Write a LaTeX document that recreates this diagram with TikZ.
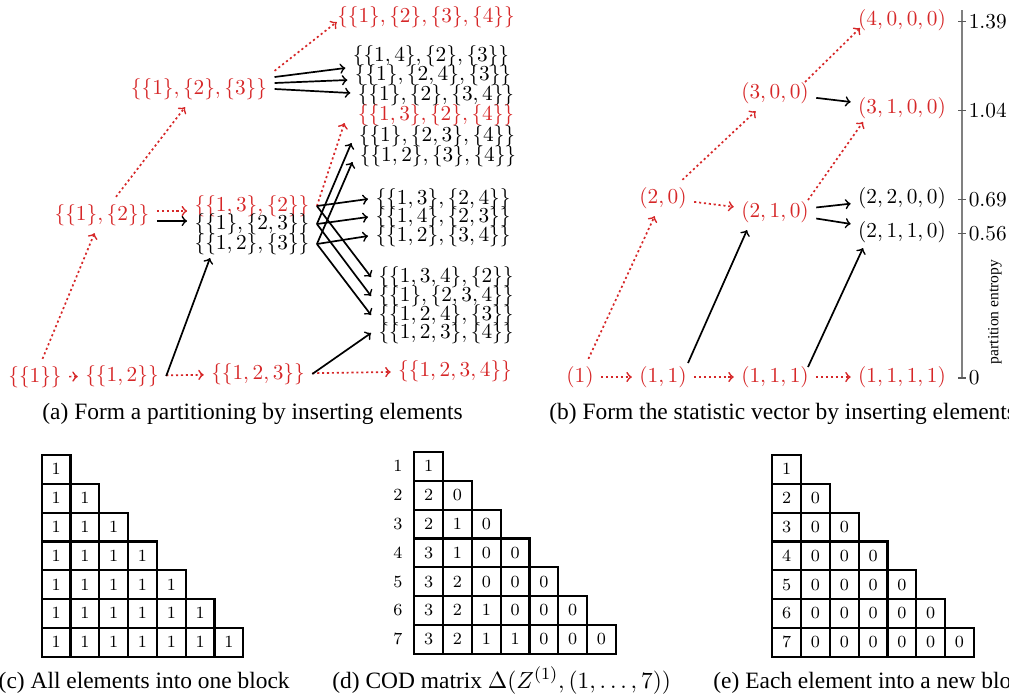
\documentclass[tikz,border=0pt]{standalone}
\usepackage{amsmath}
\usepackage[no-math]{fontspec}
\setmainfont{Liberation Serif}
\usetikzlibrary{calc}
\definecolor{setred}{RGB}{214,39,40}
\tikzset{
    part/.style    = {inner sep=3.33pt},
    newpart/.style = {part, text=setred},
    ins/.style     = {->, thick, draw=black},
    newins/.style  = {->, thick, dash pattern=on 1pt off 1.3pt, draw=setred},
    cell/.style    = {draw=black, line width=1pt, minimum size=13.5pt, inner sep=0pt, font=\fontsize{8.5}{10}\selectfont},
    rowlab/.style  = {inner sep=0pt, font=\fontsize{8.5}{10}\selectfont},
    subcap/.style  = {anchor=base west, inner sep=0pt, font=\fontsize{11}{13}\selectfont}
}

\begin{document}
\begin{tikzpicture}[x=0.4695pt, y=-0.4695pt]
    \clip (0,0) rectangle (1009,698);

    % (a) partitions
    \node[newpart] (a1)    at (35,377)  {$\{\{1\}\}$};
    \node[newpart] (a12)   at (122,376) {$\{\{1,2\}\}$};
    \node[newpart] (a123)  at (258,374) {$\{\{1,2,3\}\}$};
    \node[newpart] (a1234) at (455,371) {$\{\{1,2,3,4\}\}$};
    \node[newpart] (a1x2)  at (102,215) {$\{\{1\},\{2\}\}$};
    \node[newpart] (a13x2) at (252,206) {$\{\{1,3\},\{2\}\}$};
    \node[part]    (a1x23) at (252,224) {$\{\{1\},\{2,3\}\}$};
    \node[part]    (a12x3) at (252,244) {$\{\{1,2\},\{3\}\}$};
    \node[newpart] (a1x2x3)   at (199,89) {$\{\{1\},\{2\},\{3\}\}$};
    \node[newpart] (a1x2x3x4) at (426,17) {$\{\{1\},\{2\},\{3\},\{4\}\}$};

    \node[part]    (a14x2x3) at (431,56)  {$\{\{1,4\},\{2\},\{3\}\}$};
    \node[part]    (a1x24x3) at (433,75)  {$\{\{1\},\{2,4\},\{3\}\}$};
    \node[part]    (a1x2x34) at (436,95)  {$\{\{1\},\{2\},\{3,4\}\}$};
    \node[newpart] (a13x2x4) at (436,115) {$\{\{1,3\},\{2\},\{4\}\}$};
    \node[part]    (a1x23x4) at (437,136) {$\{\{1\},\{2,3\},\{4\}\}$};
    \node[part]    (a12x3x4) at (438,156) {$\{\{1,2\},\{3\},\{4\}\}$};
    \node[part]    (a13x24)  at (443,199) {$\{\{1,3\},\{2,4\}\}$};
    \node[part]    (a14x23)  at (443,217) {$\{\{1,4\},\{2,3\}\}$};
    \node[part]    (a12x34)  at (443,236) {$\{\{1,2\},\{3,4\}\}$};
    \node[part]    (a134x2)  at (446,277) {$\{\{1,3,4\},\{2\}\}$};
    \node[part]    (a1x234)  at (446,296) {$\{\{1\},\{2,3,4\}\}$};
    \node[part]    (a124x3)  at (446,315) {$\{\{1,2,4\},\{3\}\}$};
    \node[part]    (a123x4)  at (446,333) {$\{\{1,2,3\},\{4\}\}$};

    \draw[newins] (a1) -- (a12);
    \draw[newins] (a1) -- (a1x2);
    \draw[newins] (a12) -- (a123);
    \draw[ins] (a12.east) -- ($(a12x3)+(-42,14)$);
    \draw[newins] ($(a1x2.east)+(0,-4)$) -- ($(a13x2.west)+(0,5)$);
    \draw[ins] ($(a1x2.east)+(0,6)$) -- ($(a1x23.west)+(0,-3)$);
    \draw[newins] (a1x2) -- (a1x2x3);
    \draw[newins] (a1x2x3.north east) -- ($(a1x2x3x4.west)+(7,5)$);
    \draw[ins] ($(a1x2x3.east)+(0,-12)$) -- ($(a14x2x3.west)+(0,12)$);
    \draw[ins] ($(a1x2x3.east)+(0,-6)$) -- ($(a1x24x3.west)+(0,5)$);
    \draw[ins] (a1x2x3.east) -- ($(a1x2x34.west)+(0,-2)$);
    \draw[newins] (a123) -- (a1234);
    \draw[ins] (a123.east) -- (a123x4.west);
    \draw[newins] (a13x2.east) -- ($(a13x2x4.west)+(-6,8)$);
    \draw[ins] (a1x23.east) -- ($(a1x23x4.west)+(0,7)$);
    \draw[ins] (a12x3.east) -- ($(a12x3x4.west)+(0,6)$);
    \foreach \s/\h/\d in {a13x2/a13x24/a134x2, a1x23/a14x23/a1x234, a12x3/a12x34/a124x3} {
        \draw[ins] (\s.east) -- (\h.west);
        \draw[ins] (\s.east) -- (\d.west);
    }

    % (b) statistic vectors
    \node[newpart] (b1)    at (580,377) {$(1)$};
    \node[newpart] (b11)   at (663,377) {$(1,1)$};
    \node[newpart] (b111)  at (775,377) {$(1,1,1)$};
    \node[newpart] (b1111) at (902,377) {$(1,1,1,1)$};
    \node[newpart] (b20)   at (663,198) {$(2,0)$};
    \node[newpart] (b210)  at (775,212) {$(2,1,0)$};
    \node[part]    (b2200) at (902,198) {$(2,2,0,0)$};
    \node[part]    (b2110) at (902,232) {$(2,1,1,0)$};
    \node[newpart] (b300)  at (775,93)  {$(3,0,0)$};
    \node[newpart] (b3100) at (902,108) {$(3,1,0,0)$};
    \node[newpart] (b4000) at (902,20)  {$(4,0,0,0)$};

    \draw[newins] (b1) -- (b11);
    \draw[newins] (b11) -- (b111);
    \draw[newins] (b111) -- (b1111);
    \draw[newins] (b1) -- (b20);
    \draw[newins] (b20) -- (b210);
    \draw[newins] (b20) -- (b300);
    \draw[newins] ($(b300)+(30,-11)$) -- ($(b4000)+(-42,8)$);
    \draw[ins] (b300) -- (b3100);
    \draw[newins] ($(b210)+(33,-12)$) -- ($(b3100)+(-39,14)$);
    \draw[ins] (b210) -- (b2200);
    \draw[ins] (b210) -- (b2110);
    \draw[ins] ($(b11)+(25,-14)$) -- ($(b210)+(-28,18)$);
    \draw[ins] ($(b111)+(33,-10)$) -- ($(b2110)+(-39,16)$);

    % entropy axis
    \draw[gray, semithick] (962,10) -- (962,378);
    \foreach \v/\lab [count=\i] in {0/0, 0.5623/0.56, 0.6931/0.69, 1.0397/1.04, 1.3863/1.39} {
        \draw[gray!70!black, semithick] (958,{378-257.2*\v}) -- (966,{378-257.2*\v})
            node[anchor=west, inner sep=1pt, text=black] (tick\i) {$\lab$};
    }
    \node[rotate=90, inner sep=0pt, font=\fontsize{7.3}{9}\selectfont] (hlab) at (995,312) {partition entropy};

    % (c), (d), (e) matrices
    \foreach \r in {1,...,7} {
        \foreach \c in {1,...,\r} {
            \node[cell] (c\r\c) at ({41.7+28.8*(\c-0.5)},{455+28.8*(\r-0.5)}) {$1$};
            \node[cell] (e\r\c) at ({772.3+28.8*(\c-0.5)},{455+28.8*(\r-0.5)}) {$\ifnum\c=1 \r\else 0\fi$};
        }
    }
    \foreach \r/\vals in {1/{1}, 2/{2,0}, 3/{2,1,0}, 4/{3,1,0,0}, 5/{3,2,0,0,0}, 6/{3,2,1,0,0,0}, 7/{3,2,1,1,0,0,0}} {
        \node[rowlab] (dl\r) at (398,{452+28.8*(\r-0.5)}) {$\r$};
        \foreach \v [count=\c] in \vals {
            \node[cell] (d\r\c) at ({414.3+28.8*(\c-0.5)},{452+28.8*(\r-0.5)}) {$\v$};
        }
    }

    % captions
    \node[subcap] (capa) at (42,419)  {(a) Form a partitioning by inserting elements};
    \node[subcap] (capb) at (549,419) {(b) Form the statistic vector by inserting elements};
    \node[subcap, anchor=base east] (capc) at (290,688) {(c) All elements into one block};
    \node[subcap] (capd) at (332,688) {(d) COD matrix $\Delta(Z^{(1)},(1,\ldots,7))$};
    \node[subcap] (cape) at (713,688) {(e) Each element into a new block};
\end{tikzpicture}
\end{document}
